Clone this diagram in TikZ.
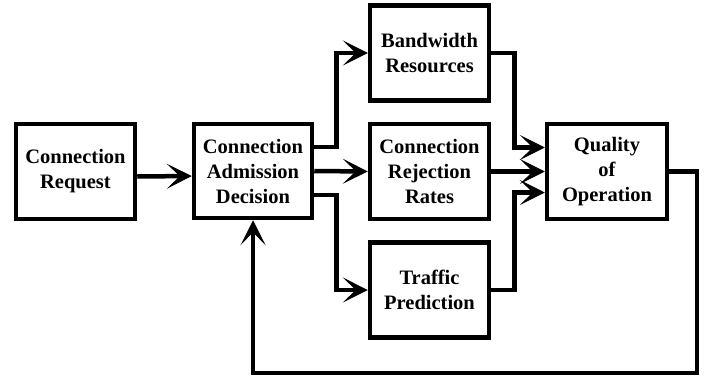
\documentclass[tikz,border=0pt]{standalone}
\usepackage{fontspec}
\setmainfont{Liberation Serif}
\usetikzlibrary{arrows.meta}
\begin{document}
\begin{tikzpicture}[x=1pt,y=-1pt,
  blk/.style={draw,line width=4.5pt,minimum width=119pt,minimum height=95pt,
    align=center,inner sep=0pt,
    font=\fontsize{20.5pt}{25pt}\selectfont\bfseries},
  conn/.style={line width=4.5pt,line join=miter},
  arr/.style={conn,-{Stealth[length=25pt,width=25pt,inset=13pt,line width=1pt]}}]
\useasboundingbox (0,0) rectangle (711,378);
\node[blk] (cr)  at (75.5,171.5) {Connection\\Request};
\node[blk,minimum width=118pt,minimum height=94pt] (cad) at (253,171) {Connection\\Admission\\Decision};
\node[blk] (bw)  at (429.5,53)   {Bandwidth\\Resources};
\node[blk] (crr) at (429.5,171.5) {Connection\\Rejection\\Rates};
\node[blk] (tp)  at (429.5,290)  {Traffic\\Prediction};
\node[blk,minimum width=120pt] (qoo) at (607,171.5) {Quality\\of\\Operation};
\coordinate (fb) at (697,373);
\draw[arr] ([yshift=-5pt]cr.east) -- ([yshift=-5pt]cad.west);
\draw[arr] ([yshift=24pt]cad.east) -- ++(22pt,0) |- (bw.west);
\draw[arr] (cad.east) -- (crr.west);
\draw[arr] ([yshift=-24pt]cad.east) -- ++(22pt,0) |- (tp.west);
\draw[arr] (bw.east) -- ++(23pt,0) |- ([yshift=24pt]qoo.west);
\draw[arr] (crr.east) -- (qoo.west);
\draw[arr] (tp.east) -- ++(23pt,0) |- ([yshift=-21pt]qoo.west);
\draw[arr] (qoo.east) -| (fb) -| (cad.south);
\end{tikzpicture}
\end{document}
